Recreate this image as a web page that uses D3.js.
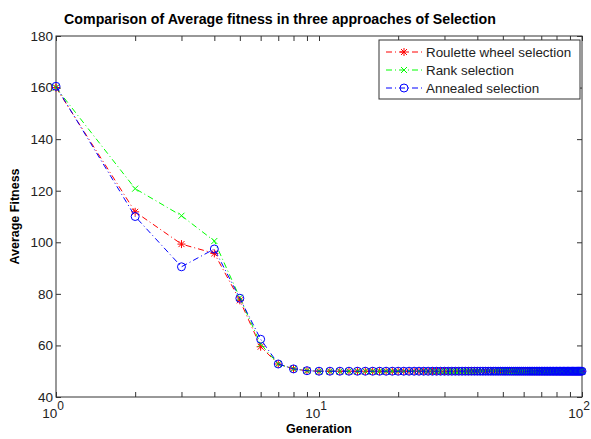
<!DOCTYPE html>
<html lang="en">
<head>
    <meta charset="UTF-8">
    <title>Average fitness comparison</title>
    <script src="https://d3js.org/d3.v7.min.js"></script>
    <style>
        body { margin: 0; background: #fff; }
        svg { display: block; font-family: "Liberation Sans", Arial, sans-serif; }
        .tick text { font-size: 13.5px; fill: #222; }
    </style>
</head>
<body>
    <div id="chart"></div>

    <script>
        // generations 1..100
        const generations = [
            1, 2, 3, 4, 5, 6, 7, 8, 9, 10,
            11, 12, 13, 14, 15, 16, 17, 18, 19, 20,
            21, 22, 23, 24, 25, 26, 27, 28, 29, 30,
            31, 32, 33, 34, 35, 36, 37, 38, 39, 40,
            41, 42, 43, 44, 45, 46, 47, 48, 49, 50,
            51, 52, 53, 54, 55, 56, 57, 58, 59, 60,
            61, 62, 63, 64, 65, 66, 67, 68, 69, 70,
            71, 72, 73, 74, 75, 76, 77, 78, 79, 80,
            81, 82, 83, 84, 85, 86, 87, 88, 89, 90,
            91, 92, 93, 94, 95, 96, 97, 98, 99, 100
        ];
        const roulette = [
            160, 111.8, 99.3, 95.7, 77.5, 59.5, 52.8, 50.9, 50.2, 50,
            50, 50, 50, 50, 50, 50, 50, 50, 50, 50,
            50, 50, 50, 50, 50, 50, 50, 50, 50, 50,
            50, 50, 50, 50, 50, 50, 50, 50, 50, 50,
            50, 50, 50, 50, 50, 50, 50, 50, 50, 50,
            50, 50, 50, 50, 50, 50, 50, 50, 50, 50,
            50, 50, 50, 50, 50, 50, 50, 50, 50, 50,
            50, 50, 50, 50, 50, 50, 50, 50, 50, 50,
            50, 50, 50, 50, 50, 50, 50, 50, 50, 50,
            50, 50, 50, 50, 50, 50, 50, 50, 50, 50
        ];
        const rank = [
            160, 120.8, 110.3, 100.5, 78.5, 60.5, 52.8, 50.9, 50.2, 50,
            50, 50, 50, 50, 50, 50, 50, 50, 50, 50,
            50, 50, 50, 50, 50, 50, 50, 50, 50, 50,
            50, 50, 50, 50, 50, 50, 50, 50, 50, 50,
            50, 50, 50, 50, 50, 50, 50, 50, 50, 50,
            50, 50, 50, 50, 50, 50, 50, 50, 50, 50,
            50, 50, 50, 50, 50, 50, 50, 50, 50, 50,
            50, 50, 50, 50, 50, 50, 50, 50, 50, 50,
            50, 50, 50, 50, 50, 50, 50, 50, 50, 50,
            50, 50, 50, 50, 50, 50, 50, 50, 50, 50
        ];
        const annealed = [
            160.5, 110, 90.5, 97.4, 78.3, 62.4, 52.8, 50.9, 50.2, 50,
            50, 50, 50, 50, 50, 50, 50, 50, 50, 50,
            50, 50, 50, 50, 50, 50, 50, 50, 50, 50,
            50, 50, 50, 50, 50, 50, 50, 50, 50, 50,
            50, 50, 50, 50, 50, 50, 50, 50, 50, 50,
            50, 50, 50, 50, 50, 50, 50, 50, 50, 50,
            50, 50, 50, 50, 50, 50, 50, 50, 50, 50,
            50, 50, 50, 50, 50, 50, 50, 50, 50, 50,
            50, 50, 50, 50, 50, 50, 50, 50, 50, 50,
            50, 50, 50, 50, 50, 50, 50, 50, 50, 50
        ];
        const seriesNames = ["Roulette wheel selection", "Rank selection", "Annealed selection"];
        const yTicks = [40, 60, 80, 100, 120, 140, 160, 180];
        const xMajorTicks = [1, 10, 100];
        const xExponents = ["0", "1", "2"];
        const xMinorTicks = [2, 3, 4, 5, 6, 7, 8, 9, 20, 30, 40, 50, 60, 70, 80, 90];

        const width = 591, height = 439;
        const margin = {top: 36, right: 9, bottom: 42, left: 56};
        const plotW = width - margin.left - margin.right,
              plotH = height - margin.top - margin.bottom;

        const x = d3.scaleLog().domain([1, 100]).range([0, plotW]);
        const y = d3.scaleLinear().domain([40, 180]).range([plotH, 0]);

        const svg = d3.select("#chart")
                      .append("svg")
                      .attr("width", width)
                      .attr("height", height);

        const g = svg.append("g")
                     .attr("transform", `translate(${margin.left}, ${margin.top})`);

        // axes (ticks point inward, box on)
        const axisColor = "#333";
        const styleAxis = sel => {
            sel.select(".domain").remove();
            sel.selectAll(".tick line").attr("stroke", axisColor);
        };

        g.append("g")
         .attr("transform", `translate(0, ${plotH})`)
         .call(d3.axisBottom(x).tickValues(xMajorTicks.concat(xMinorTicks)).tickSize(-5).tickFormat(""))
         .call(styleAxis);
        g.append("g")
         .call(d3.axisTop(x).tickValues(xMajorTicks.concat(xMinorTicks)).tickSize(-5).tickFormat(""))
         .call(styleAxis);
        g.append("g")
         .call(d3.axisLeft(y).tickValues(yTicks).tickSize(-5).tickPadding(4))
         .call(styleAxis)
         .selectAll(".tick text").attr("x", -3);
        g.append("g")
         .attr("transform", `translate(${plotW}, 0)`)
         .call(d3.axisRight(y).tickValues(yTicks).tickSize(-5).tickFormat(""))
         .call(styleAxis);

        g.append("rect")
         .attr("width", plotW)
         .attr("height", plotH)
         .attr("fill", "none")
         .attr("stroke", axisColor)
         .attr("stroke-width", 1);

        // log labels 10^n
        const xl = g.append("g").attr("font-size", 13.5).attr("fill", "#222");
        xMajorTicks.forEach((t, i) => {
            const lbl = xl.append("text")
                          .attr("x", x(t) - 3)
                          .attr("y", plotH + 21)
                          .attr("text-anchor", "middle");
            lbl.append("tspan").text("10");
            lbl.append("tspan").attr("dy", -8).attr("font-size", 12).text(xExponents[i]);
        });

        // series
        const series = [
            {name: seriesNames[0], values: roulette, color: "#ff0000", marker: "star"},
            {name: seriesNames[1], values: rank, color: "#00ff00", marker: "x"},
            {name: seriesNames[2], values: annealed, color: "#0000ff", marker: "circle"}
        ];

        const line = d3.line()
                       .x(d => x(d[0]))
                       .y(d => y(d[1]));

        function drawMarker(sel, type, color) {
            if (type === "circle") {
                sel.append("circle").attr("r", 4)
                   .attr("fill", "none").attr("stroke", color).attr("stroke-width", 1);
            } else if (type === "x") {
                sel.append("path").attr("d", "M-3,-3L3,3M-3,3L3,-3")
                   .attr("stroke", color).attr("stroke-width", 1);
            } else {
                sel.append("path").attr("d", "M-4,0L4,0M0,-4L0,4M-3,-3L3,3M-3,3L3,-3")
                   .attr("stroke", color).attr("stroke-width", 1);
            }
        }

        series.forEach(s => {
            const pts = generations.map((gen, i) => [gen, s.values[i]]);
            g.append("path")
             .datum(pts)
             .attr("d", line)
             .attr("fill", "none")
             .attr("stroke", s.color)
             .attr("stroke-width", 1)
             .attr("stroke-dasharray", "6,3,1,3");
            g.selectAll(null)
             .data(pts)
             .enter()
             .append("g")
             .attr("transform", d => `translate(${x(d[0])}, ${y(d[1])})`)
             .each(function() { drawMarker(d3.select(this), s.marker, s.color); });
        });

        // title and axis labels
        svg.append("text")
           .attr("x", 280)
           .attr("y", 24)
           .attr("text-anchor", "middle")
           .attr("font-size", 14.2)
           .attr("font-weight", "bold")
           .text("Comparison of Average fitness in three approaches of Selection");

        svg.append("text")
           .attr("x", margin.left + plotW / 2)
           .attr("y", 433)
           .attr("text-anchor", "middle")
           .attr("font-size", 12.5)
           .attr("font-weight", "bold")
           .text("Generation");

        svg.append("text")
           .attr("transform", `translate(19, ${margin.top + plotH / 2}) rotate(-90)`)
           .attr("text-anchor", "middle")
           .attr("font-size", 12.5)
           .attr("font-weight", "bold")
           .text("Average Fitness");

        // legend
        const legend = svg.append("g").attr("transform", "translate(379, 40)");
        legend.append("rect")
              .attr("width", 201)
              .attr("height", 59)
              .attr("fill", "#fff")
              .attr("stroke", axisColor);
        series.forEach((s, i) => {
            const row = legend.append("g").attr("transform", `translate(0, ${12 + i * 18})`);
            row.append("line")
               .attr("x1", 7).attr("x2", 43)
               .attr("stroke", s.color)
               .attr("stroke-dasharray", "6,3,1,3");
            drawMarker(row.append("g").attr("transform", "translate(25, 0)"), s.marker, s.color);
            row.append("text")
               .attr("x", 47)
               .attr("y", 5)
               .attr("font-size", 13.4)
               .attr("fill", "#222")
               .text(s.name);
        });
    </script>
</body>
</html>
